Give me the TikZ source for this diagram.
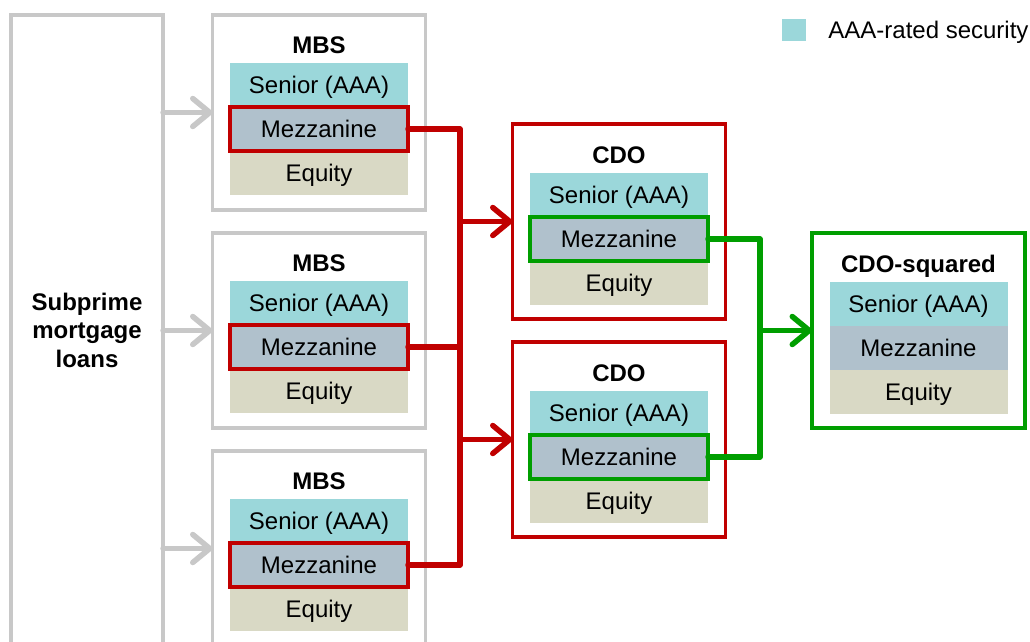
\documentclass[tikz,border=0pt]{standalone}
\usepackage{fontspec}
\setmainfont{Liberation Sans}
\usetikzlibrary{arrows.meta,positioning}
\definecolor{aaacyan}{RGB}{155,215,218}
\definecolor{mezzgray}{RGB}{176,193,204}
\definecolor{eqbeige}{RGB}{217,217,197}
\definecolor{boxgray}{RGB}{200,200,200}
\definecolor{lossred}{RGB}{192,0,0}
\definecolor{cdogreen}{RGB}{0,158,0}

\begin{document}
\begin{tikzpicture}[x=1pt,y=-1pt,>={Straight Barb[length=17pt,width=28pt,round]},
  font=\fontsize{24}{28.5}\selectfont,
  frame/.style={draw,line width=3.5pt,minimum width=213pt,minimum height=195pt,inner sep=0pt,outer sep=0pt},
  band/.style={minimum width=178pt,minimum height=44pt,inner sep=0pt,outer sep=0pt,text height=17pt,text depth=0pt},
  senior/.style={band,fill=aaacyan},
  mezz/.style={band,fill=mezzgray},
  equity/.style={band,fill=eqbeige},
  title/.style={inner sep=0pt,text height=17pt,text depth=0pt,font=\fontsize{24}{28.5}\selectfont\bfseries},
  link/.style={line width=5.5pt,line join=round,line cap=round}]
        \useasboundingbox (0,0) rectangle (1030,641);
        % pool
        \node[frame,draw=boxgray,minimum width=152pt,minimum height=630pt,align=center,font=\fontsize{24}{28.5}\selectfont\bfseries] (loans) at (87,330) {Subprime\\mortgage\\loans};
        % MBS tranches
        \node[frame,draw=boxgray] (mbsA) at (319,112.5) {};
        \node[senior,below=48pt of mbsA.north] (mbsAs) {Senior (AAA)};
        \node[equity,below=44pt of mbsAs] (mbsAe) {Equity};
        \node[mezz,below=0pt of mbsAs,draw=lossred,line width=3.5pt] (mbsAm) {Mezzanine};
        \node[title,above=9.5pt of mbsAs] (mbsAt) {MBS};
        \node[frame,draw=boxgray] (mbsB) at (319,330.5) {};
        \node[senior,below=48pt of mbsB.north] (mbsBs) {Senior (AAA)};
        \node[equity,below=44pt of mbsBs] (mbsBe) {Equity};
        \node[mezz,below=0pt of mbsBs,draw=lossred,line width=3.5pt] (mbsBm) {Mezzanine};
        \node[title,above=9.5pt of mbsBs] (mbsBt) {MBS};
        \node[frame,draw=boxgray] (mbsC) at (319,548.5) {};
        \node[senior,below=48pt of mbsC.north] (mbsCs) {Senior (AAA)};
        \node[equity,below=44pt of mbsCs] (mbsCe) {Equity};
        \node[mezz,below=0pt of mbsCs,draw=lossred,line width=3.5pt] (mbsCm) {Mezzanine};
        \node[title,above=9.5pt of mbsCs] (mbsCt) {MBS};
        % CDOs
        \node[frame,draw=lossred] (cdoA) at (619,221.5) {};
        \node[senior,below=49pt of cdoA.north] (cdoAs) {Senior (AAA)};
        \node[equity,below=44pt of cdoAs] (cdoAe) {Equity};
        \node[mezz,below=0pt of cdoAs,draw=cdogreen,line width=3.5pt] (cdoAm) {Mezzanine};
        \node[title,above=9.5pt of cdoAs] (cdoAt) {CDO};
        \node[frame,draw=lossred] (cdoB) at (619,439.5) {};
        \node[senior,below=49pt of cdoB.north] (cdoBs) {Senior (AAA)};
        \node[equity,below=44pt of cdoBs] (cdoBe) {Equity};
        \node[mezz,below=0pt of cdoBs,draw=cdogreen,line width=3.5pt] (cdoBm) {Mezzanine};
        \node[title,above=9.5pt of cdoBs] (cdoBt) {CDO};
        % CDO-squared
        \node[frame,draw=cdogreen] (sq) at (918.5,330.5) {};
        \node[senior,below=49pt of sq.north] (sqs) {Senior (AAA)};
        \node[mezz,below=0pt of sqs] (sqm) {Mezzanine};
        \node[equity,below=0pt of sqm] (sqe) {Equity};
        \node[title,above=9.5pt of sqs] (sqt) {CDO-squared};
        % key
        \node[fill=aaacyan,minimum width=24pt,minimum height=22pt,inner sep=0pt] (key) at (794,30) {};
        \node[right=22pt of key,inner sep=0pt,text height=17pt,text depth=0pt] (keytext) {AAA-rated security};
        % links
        \coordinate (redbus) at (460,0);
        \coordinate (greenbus) at (760,0);
        \draw[link,boxgray,->] (loans.east |- mbsA.west) -- (mbsA.west);
        \draw[link,boxgray,->] (loans.east |- mbsB.west) -- (mbsB.west);
        \draw[link,boxgray,->] (loans.east |- mbsC.west) -- (mbsC.west);
        \draw[link,lossred] (mbsAm.east) -- (mbsAm.east -| redbus) -- (mbsCm.east -| redbus) -- (mbsCm.east);
        \draw[link,lossred] (mbsBm.east) -- (mbsBm.east -| redbus);
        \draw[link,lossred,->] (redbus |- cdoA.west) -- (cdoA.west);
        \draw[link,lossred,->] (redbus |- cdoB.west) -- (cdoB.west);
        \draw[link,cdogreen] (cdoAm.east) -- (cdoAm.east -| greenbus) -- (cdoBm.east -| greenbus) -- (cdoBm.east);
        \draw[link,cdogreen,->] (greenbus |- sq.west) -- (sq.west);
\end{tikzpicture}
\end{document}
